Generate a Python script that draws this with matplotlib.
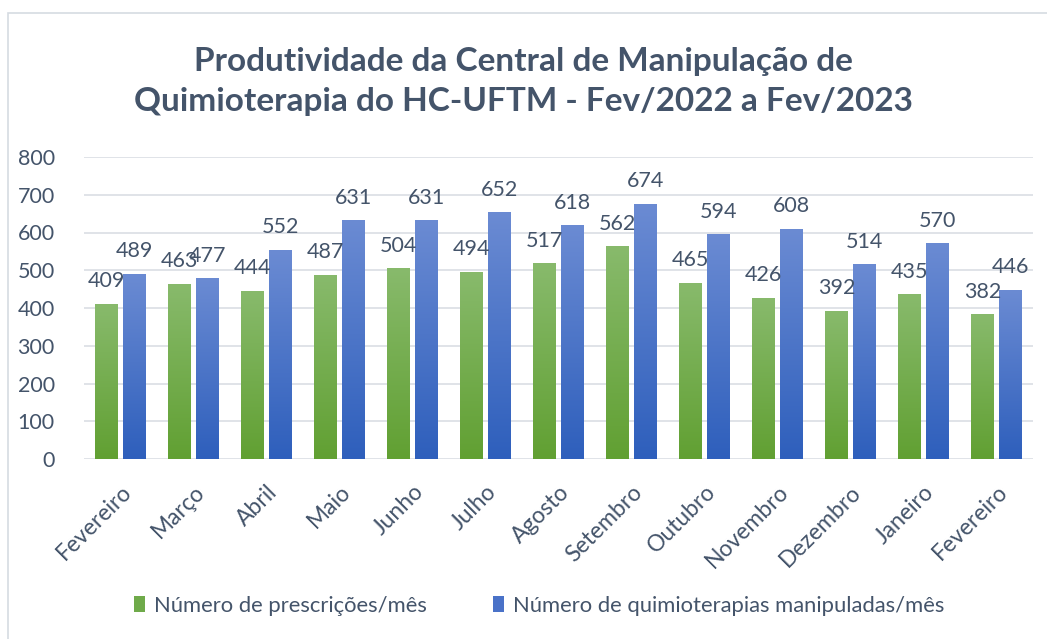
import numpy as np
import matplotlib
matplotlib.use("Agg")
import matplotlib.pyplot as plt
from matplotlib.colors import LinearSegmentedColormap
from matplotlib.patches import Rectangle, Patch

# data
meses = ["Fevereiro", "Março", "Abril", "Maio", "Junho", "Julho", "Agosto",
         "Setembro", "Outubro", "Novembro", "Dezembro", "Janeiro", "Fevereiro"]
prescricoes = [409, 463, 444, 487, 504, 494, 517, 562, 465, 426, 392, 435, 382]
quimioterapias = [489, 477, 552, 631, 631, 652, 618, 674, 594, 608, 514, 570, 446]
serie_nomes = ["Número de prescrições/mês", "Número de quimioterapias manipuladas/mês"]
titulo = "Produtividade da Central de Manipulação de\nQuimioterapia do HC-UFTM - Fev/2022 a Fev/2023"

txt_color = "#44546A"
grid_color = "#DDE1E6"
green_top, green_bot = "#88BA6C", "#61A032"
blue_top, blue_bot = "#6B8BD3", "#2E5FBC"

plt.rcParams["font.family"] = ["Lato", "DejaVu Sans"]

fig = plt.figure(figsize=(10.47, 6.39), dpi=100)
ax = fig.add_axes([84 / 1047, 1 - 459 / 639, (1033 - 84) / 1047, 302 / 639])

# outer chart border (left and top visible in reference)
fig.add_artist(Rectangle((7.5 / 1047, -0.05), 1.2, 1 - 12.5 / 639 + 0.05,
                         transform=fig.transFigure, fill=False,
                         edgecolor="#D6DBE1", linewidth=1.2))

x = np.arange(len(meses))
w = 0.315
off = 0.19

bars_g = ax.bar(x - off, prescricoes, w, color="none", zorder=3)
bars_b = ax.bar(x + off, quimioterapias, w, color="none", zorder=3)

grad = np.linspace(1, 0, 256).reshape(-1, 1)
cm_g = LinearSegmentedColormap.from_list("g", [green_bot, green_top])
cm_b = LinearSegmentedColormap.from_list("b", [blue_bot, blue_top])

# gradient fill, like the excel original
for bars, cm in [(bars_g, cm_g), (bars_b, cm_b)]:
    for b in bars:
        x0, y0 = b.get_x(), b.get_y()
        bw, bh = b.get_width(), b.get_height()
        ax.imshow(grad, cmap=cm, aspect="auto", extent=(x0, x0 + bw, y0, y0 + bh),
                  zorder=3, vmin=0, vmax=1)

for bars, vals in [(bars_g, prescricoes), (bars_b, quimioterapias)]:
    for b, v in zip(bars, vals):
        ax.annotate(str(v), (b.get_x() + b.get_width() / 2, v),
                    xytext=(0, 9.5), textcoords="offset points",
                    ha="center", va="bottom", fontsize=15.5, color=txt_color, zorder=4)

ax.set_xlim(-0.5, len(meses) - 0.5)
ax.set_ylim(0, 800)
ax.set_yticks(range(0, 801, 100))
ax.yaxis.grid(True, color=grid_color, linewidth=1.3, zorder=0)
ax.set_axisbelow(True)
for s in ax.spines.values():
    s.set_visible(False)
ax.tick_params(axis="both", length=0, colors=txt_color, labelsize=15.5)
ax.tick_params(axis="y", pad=21)
ax.set_xticks(x)
ax.set_xticklabels(meses, rotation=45, ha="right", rotation_mode="anchor",
                   fontsize=16.5, color=txt_color)
ax.tick_params(axis="x", pad=16)

fig.text(0.5, 0.872, titulo, ha="center", va="center", fontsize=24,
         fontweight="bold", color=txt_color, linespacing=1.45)

handles = [Patch(facecolor="#6FAA4A", edgecolor="none"),
           Patch(facecolor="#4A72C8", edgecolor="none")]
fig.legend(handles, serie_nomes, loc="center", bbox_to_anchor=(0.515, 0.052),
           ncol=2, frameon=False, fontsize=15.8, handlelength=0.5, handleheight=0.7,
           handletextpad=0.4, columnspacing=3.0, labelcolor=txt_color)

fig.savefig("out.png", dpi=100, facecolor="white")
